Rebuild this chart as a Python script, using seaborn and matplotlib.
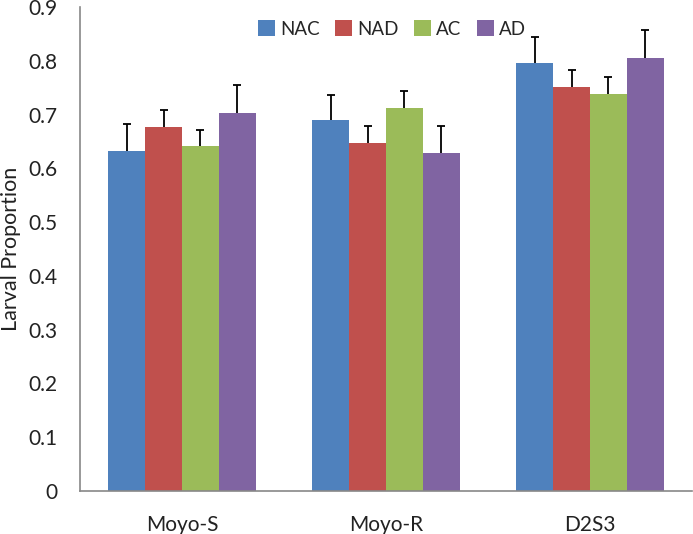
import matplotlib
matplotlib.use("Agg")
import matplotlib.pyplot as plt
import seaborn as sns
import numpy as np
import pandas as pd

categories = ["Moyo-S", "Moyo-R", "D2S3"]
series = ["NAC", "NAD", "AC", "AD"]
nac = [0.633, 0.690, 0.796]
nad = [0.677, 0.648, 0.751]
ac = [0.642, 0.713, 0.739]
ad = [0.703, 0.629, 0.805]
nac_err = [0.049, 0.046, 0.048]
nad_err = [0.032, 0.031, 0.032]
ac_err = [0.029, 0.030, 0.030]
ad_err = [0.052, 0.050, 0.052]
yticks = [0, 0.1, 0.2, 0.3, 0.4, 0.5, 0.6, 0.7, 0.8, 0.9]
ytick_labels = ["0", "0.1", "0.2", "0.3", "0.4", "0.5", "0.6", "0.7", "0.8", "0.9"]

colors = ["#4F81BD", "#C0504D", "#9BBB59", "#8064A2"]

values = [nac, nad, ac, ad]
errs = [nac_err, nad_err, ac_err, ad_err]
rows = []
for s, vals in zip(series, values):
    for c, v in zip(categories, vals):
        rows.append({"Category": c, "Series": s, "Value": v})
df = pd.DataFrame(rows)

sns.set_style("white")
plt.rcParams["font.family"] = ["Lato", "DejaVu Sans"]

fig = plt.figure(figsize=(6.93, 5.34), dpi=100)
ax = fig.add_axes([80/693, 43/534, 612/693, 484/534])

sns.barplot(data=df, x="Category", y="Value", hue="Series", order=categories,
            hue_order=series, palette=colors, width=0.725, saturation=1,
            errorbar=None, ax=ax, linewidth=0)

for cont, err in zip(ax.containers, errs):
    xs = [p.get_x() + p.get_width() / 2 for p in cont.patches]
    hs = [p.get_height() for p in cont.patches]
    eb = ax.errorbar(xs, hs, yerr=[np.zeros(len(err)), err], fmt="none",
                     ecolor="black", elinewidth=1.3, capsize=2.6, capthick=1.3)
    eb[1][0].set_visible(False)

ax.set_ylim(0, 0.9)
ax.set_xlim(-0.5, 2.5)
ax.set_yticks(yticks)
ax.set_yticklabels(ytick_labels)
ax.tick_params(axis="both", length=0, labelsize=15, colors="#222222")
ax.tick_params(axis="y", pad=16)
ax.tick_params(axis="x", pad=17)
ax.set_xlabel("")
ax.set_ylabel("Larval Proportion", fontsize=15.5, color="#222222")
ax.yaxis.set_label_coords(-0.096, 0.5)
for sp in ["top", "right"]:
    ax.spines[sp].set_visible(False)
for sp in ["left", "bottom"]:
    ax.spines[sp].set_color("#888888")
    ax.spines[sp].set_linewidth(1.2)

ax.legend(loc="center", bbox_to_anchor=(392/693, 505/534), bbox_transform=fig.transFigure,
          ncol=4, frameon=False, fontsize=13.5, handlelength=0.9, handleheight=0.9,
          handletextpad=0.3, columnspacing=0.8, borderaxespad=0)

fig.savefig("out.png", dpi=100)
